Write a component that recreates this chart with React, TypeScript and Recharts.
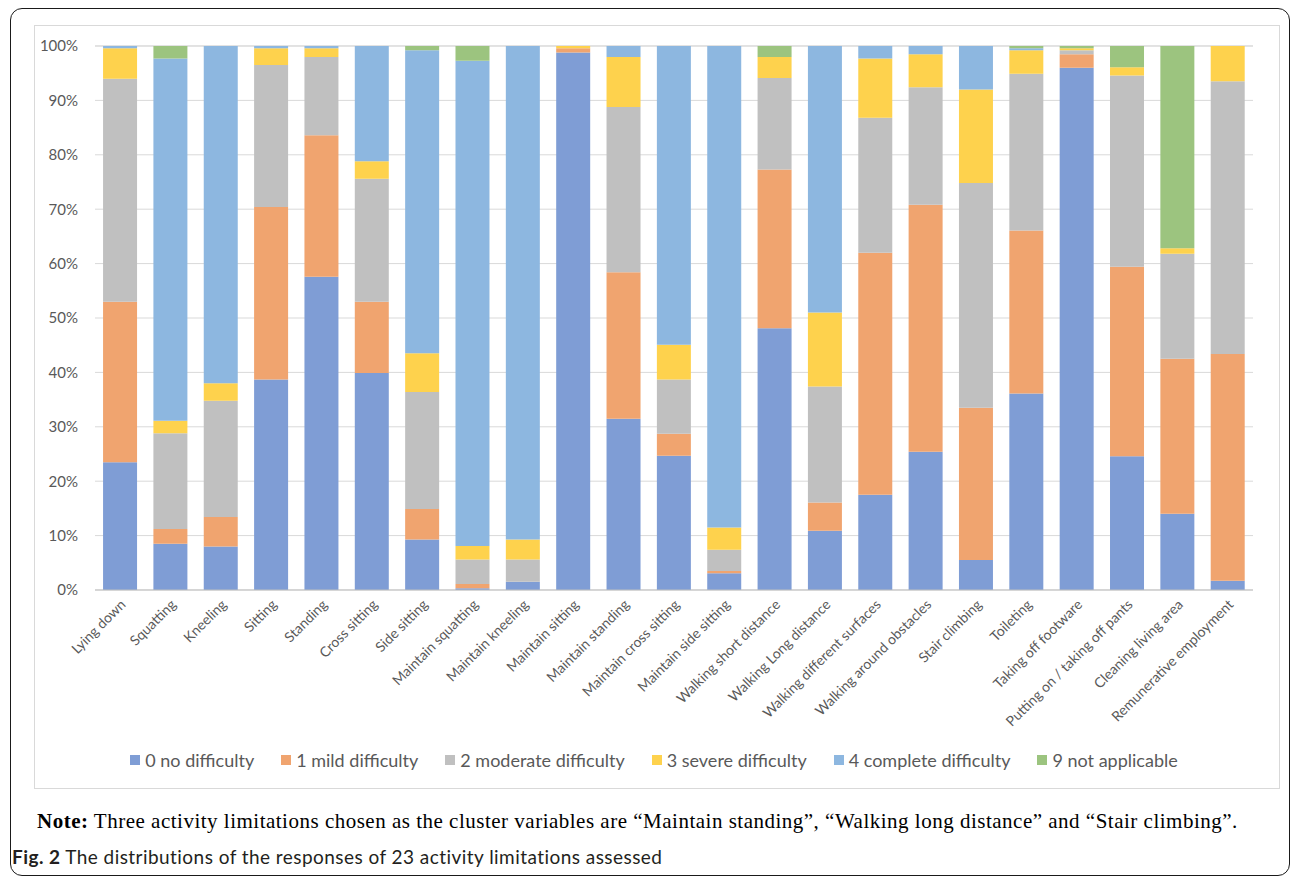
import { BarChart, Bar, XAxis, YAxis, CartesianGrid, Legend } from "recharts";

// 23 activity limitations, share of responses (%) per answer level
const activities = [
  "Lying down",
  "Squatting",
  "Kneeling",
  "Sitting",
  "Standing",
  "Cross sitting",
  "Side sitting",
  "Maintain squatting",
  "Maintain kneeling",
  "Maintain sitting",
  "Maintain standing",
  "Maintain cross sitting",
  "Maintain side sitting",
  "Walking short distance",
  "Walking Long distance",
  "Walking different surfaces",
  "Walking around obstacles",
  "Stair climbing",
  "Toileting",
  "Taking off footware",
  "Putting on / taking off pants",
  "Cleaning living area",
  "Remunerative employment",
];

const noDifficulty = [23.5, 8.5, 8.0, 38.7, 57.6, 39.9, 9.3, 0.3, 1.5, 98.8, 31.5, 24.7, 3.1, 48.1, 10.9, 17.5, 25.4, 5.5, 36.1, 96.0, 24.6, 14.0, 1.7];
const mildDifficulty = [29.5, 2.7, 5.4, 31.7, 26.0, 13.1, 5.6, 0.8, 0, 0.8, 26.9, 4.0, 0.4, 29.2, 5.2, 44.5, 45.4, 28.0, 30.0, 2.5, 34.8, 28.5, 41.7];
const moderateDifficulty = [41.0, 17.6, 21.4, 26.1, 14.4, 22.6, 21.5, 4.5, 4.1, 0, 30.4, 10.0, 3.9, 16.8, 21.3, 24.8, 21.6, 41.3, 28.8, 0.7, 35.2, 19.3, 50.1];
const severeDifficulty = [5.6, 2.3, 3.2, 3.1, 1.6, 3.2, 7.1, 2.5, 3.7, 0.4, 9.2, 6.4, 4.1, 3.9, 13.6, 10.9, 6.1, 17.2, 4.3, 0.4, 1.5, 1.0, 6.5];
const completeDifficulty = [0.4, 66.6, 62.0, 0.4, 0.4, 21.2, 55.7, 89.2, 90.7, 0, 2.0, 54.9, 88.5, 0, 49.0, 2.3, 1.5, 8.0, 0.4, 0, 0, 0, 0];
const notApplicable = [0, 2.3, 0, 0, 0, 0, 0.8, 2.7, 0, 0, 0, 0, 0, 2.0, 0, 0, 0, 0, 0.4, 0.4, 3.9, 37.2, 0];

const yTicks = [0, 10, 20, 30, 40, 50, 60, 70, 80, 90, 100];

const seriesNames = [
  "0 no difficulty",
  "1 mild difficulty",
  "2 moderate difficulty",
  "3 severe difficulty",
  "4 complete difficulty",
  "9 not applicable",
];
const seriesColors = ["#7F9DD5", "#F0A46F", "#C0C0C0", "#FED24D", "#8DB7E0", "#9CC47F"];
const seriesValues = [
  noDifficulty,
  mildDifficulty,
  moderateDifficulty,
  severeDifficulty,
  completeDifficulty,
  notApplicable,
];

const data = activities.map((name, i) => {
  const row: Record<string, string | number> = { name };
  seriesValues.forEach((vals, s) => {
    row["s" + s] = vals[i];
  });
  return row;
});

const labelColor = "#595959";
const font = "Lato, 'Noto Sans', sans-serif";

function ActivityTick({ x, y, payload }: any) {
  return (
    <g transform={`translate(${x + 3},${y + 4})`}>
      <text
        textAnchor="end"
        transform="rotate(-45)"
        fill={labelColor}
        fontSize={14}
        fontFamily={font}
        dy="0.35em"
      >
        {payload.value}
      </text>
    </g>
  );
}

function LegendRow() {
  return (
    <div
      style={{
        height: 24,
        display: "flex",
        justifyContent: "center",
        alignItems: "center",
        paddingLeft: 20,
        fontFamily: font,
        fontSize: 18,
        color: labelColor,
      }}
    >
      {seriesNames.map((name, i) => (
        <div
          key={name}
          style={{
            display: "flex",
            alignItems: "center",
            marginRight: i < seriesNames.length - 1 ? 27 : 0,
          }}
        >
          <span
            style={{
              width: 10,
              height: 10,
              background: seriesColors[i],
              marginRight: 5,
              display: "inline-block",
            }}
          />
          {name}
        </div>
      ))}
    </div>
  );
}

export default function App() {
  return (
    <div
      style={{
        position: "fixed",
        left: 0,
        top: 0,
        width: 1292,
        height: 879,
        background: "#fff",
        overflow: "hidden",
      }}
    >
      <div
        style={{
          position: "absolute",
          left: 10,
          top: 8,
          width: 1280,
          height: 868,
          border: "1.5px solid #1a1a1a",
          borderRadius: 12,
          boxSizing: "border-box",
        }}
      />
      <div
        style={{
          position: "absolute",
          left: 34,
          top: 25,
          width: 1246,
          height: 764,
          border: "1px solid #D9D9D9",
          boxSizing: "border-box",
        }}
      />
      <div style={{ position: "absolute", left: 0, top: 0 }}>
        <BarChart
          width={1292}
          height={790}
          data={data}
          margin={{ top: 46, right: 39, left: 35, bottom: 18 }}
          barCategoryGap="16%"
        >
          <CartesianGrid vertical={false} stroke="#D9D9D9" />
          <XAxis
            dataKey="name"
            interval={0}
            height={158}
            tickLine={false}
            tickSize={0}
            tickMargin={8}
            axisLine={{ stroke: "#BFBFBF" }}
            tick={<ActivityTick />}
          />
          <YAxis
            width={60}
            domain={[0, 100]}
            ticks={yTicks}
            tickFormatter={(v) => `${v}%`}
            axisLine={false}
            tickLine={false}
            tickSize={0}
            tickMargin={17}
            tick={{ fill: labelColor, fontSize: 15, fontFamily: font }}
          />
          <Legend verticalAlign="bottom" content={<LegendRow />} />
          {seriesNames.map((name, i) => (
            <Bar
              key={name}
              dataKey={"s" + i}
              name={name}
              stackId="a"
              fill={seriesColors[i]}
              isAnimationActive={false}
            />
          ))}
        </BarChart>
      </div>
      <div
        style={{
          position: "absolute",
          left: 37,
          top: 809,
          fontFamily: "'Liberation Serif', serif",
          fontSize: 21,
          letterSpacing: 0.5,
          color: "#000",
          whiteSpace: "nowrap",
        }}
      >
        <b>Note:</b> Three activity limitations chosen as the cluster variables are “Maintain
        standing”, “Walking long distance” and “Stair climbing”.
      </div>
      <div
        style={{
          position: "absolute",
          left: 12,
          top: 845,
          fontFamily: font,
          fontSize: 19,
          letterSpacing: 0.45,
          color: "#231F20",
          whiteSpace: "nowrap",
        }}
      >
        <b>Fig. 2</b> The distributions of the responses of 23 activity limitations assessed
      </div>
    </div>
  );
}
